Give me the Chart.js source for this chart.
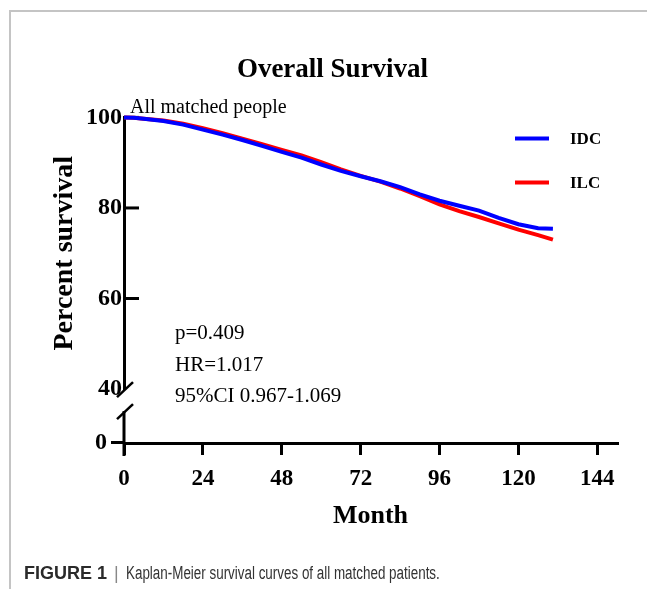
<!DOCTYPE html>
<html>
<head>
<meta charset="utf-8">
<script src="https://cdn.jsdelivr.net/npm/chart.js@4.4.1/dist/chart.umd.min.js"></script>
<style>
  html, body { margin: 0; padding: 0; background: #fff; }
  #wrap { position: absolute; left: 0; top: 0; width: 647px; height: 589px; }
  #frame { position: absolute; left: 9px; top: 10px; width: 700px; height: 600px;
           border-left: 2px solid #c4c4c4; border-top: 2px solid #c4c4c4; }
  #cap { position: absolute; left: 24px; top: 561px; font-family: "Liberation Sans", Arial, sans-serif;
         font-size: 18px; color: #2a2a2a; white-space: nowrap; line-height: 24px; }
  #cap b { font-weight: bold; }
  #cap .bar { color: #888; padding: 0 7px 0 7px; }
  #cap .txt { display: inline-block; transform: scaleX(0.745); transform-origin: 0 50%; color: #333; }
</style>
</head>
<body>
<div id="wrap">
  <div id="frame"></div>
  <canvas id="c" width="647" height="589"></canvas>
  <div id="cap"><b>FIGURE 1</b><span class="bar">|</span><span class="txt">Kaplan-Meier survival curves of all matched patients.</span></div>
</div>
<script>
// ---- data ----
const months = [0, 3, 6, 12, 18, 24, 30, 36, 42, 48, 54, 60, 66, 72, 78, 84, 90, 96, 102, 108, 114, 120, 126, 130.5];
const idcSurvival = [100, 99.9, 99.7, 99.2, 98.4, 97.3, 96.2, 95.0, 93.7, 92.4, 91.1, 89.6, 88.2, 87.0, 85.9, 84.6, 83.0, 81.6, 80.5, 79.4, 77.8, 76.4, 75.5, 75.4];
const ilcSurvival = [100, 99.9, 99.7, 99.3, 98.6, 97.6, 96.5, 95.3, 94.1, 92.8, 91.6, 90.1, 88.5, 87.1, 85.8, 84.3, 82.6, 80.8, 79.3, 78.0, 76.6, 75.2, 74.0, 73.0];
const seriesNames = ['IDC', 'ILC'];
const seriesColors = ['#0000ff', '#ff0000'];
const xTicks = [0, 24, 48, 72, 96, 120, 144];
const yTicksUpper = [40, 60, 80, 100];
const yTicksLower = [0];
const chartTitle = 'Overall Survival';
const yTitle = 'Percent survival';
const xTitle = 'Month';
const subgroupLabel = 'All matched people';
const statLines = ['p=0.409', 'HR=1.017', '95%CI 0.967-1.069'];

const SERIF = '"Liberation Serif", "Times New Roman", serif';

const toPoints = (xs, ys) => xs.map((x, i) => ({ x: x, y: ys[i] }));

const extras = {
  id: 'extras',
  beforeDatasetsDraw(chart) {
    const ctx = chart.ctx;
    const yU = chart.scales.y;
    const yL = chart.scales.yLow;
    const ax = chart.chartArea.left;
    ctx.save();
    ctx.strokeStyle = '#000';
    ctx.lineWidth = 3;
    ctx.lineCap = 'butt';
    // inward ticks on the upper segment
    yTicksUpper.forEach(v => {
      if (v === 40) return;
      const py = yU.getPixelForValue(v);
      ctx.beginPath(); ctx.moveTo(ax, py); ctx.lineTo(ax + 15, py); ctx.stroke();
    });
    // lower segment of axis (continues through the x-axis as the 0 tick)
    const yBreak = yU.getPixelForValue(40);
    const lowTop = yBreak + 22;
    ctx.beginPath(); ctx.moveTo(ax, lowTop); ctx.lineTo(ax, yL.getPixelForValue(0) + 13); ctx.stroke();
    // break slashes
    ctx.lineWidth = 2.5;
    ctx.beginPath(); ctx.moveTo(ax - 7, yBreak + 8); ctx.lineTo(ax + 9, yBreak - 7); ctx.stroke();
    ctx.beginPath(); ctx.moveTo(ax - 7, lowTop + 8); ctx.lineTo(ax + 9, lowTop - 7); ctx.stroke();
    ctx.restore();
  },
  afterDraw(chart) {
    const ctx = chart.ctx;
    ctx.save();
    ctx.fillStyle = '#000';
    ctx.textBaseline = 'alphabetic';
    ctx.textAlign = 'left';
    ctx.font = '20px ' + SERIF;
    ctx.fillText(subgroupLabel, 130, 113);
    ctx.font = '21px ' + SERIF;
    const bases = [339, 371, 402];
    statLines.forEach((t, i) => ctx.fillText(t, 175, bases[i]));
    // legend
    const legY = [138.5, 182.5];
    chart.data.datasets.forEach((ds, i) => {
      ctx.strokeStyle = ds.borderColor;
      ctx.lineWidth = 4;
      ctx.beginPath(); ctx.moveTo(515, legY[i]); ctx.lineTo(549, legY[i]); ctx.stroke();
      ctx.fillStyle = '#000';
      ctx.font = 'bold 17px ' + SERIF;
      ctx.textBaseline = 'middle';
      ctx.fillText(ds.label, 570, legY[i] + 1);
    });
    ctx.restore();
  }
};

new Chart(document.getElementById('c'), {
  type: 'line',
  data: {
    datasets: [
      { label: seriesNames[0], data: toPoints(months, idcSurvival), borderColor: seriesColors[0], backgroundColor: seriesColors[0],
        borderWidth: 4, pointRadius: 0, tension: 0, clip: false, yAxisID: 'y', order: 1 },
      { label: seriesNames[1], data: toPoints(months, ilcSurvival), borderColor: seriesColors[1], backgroundColor: seriesColors[1],
        borderWidth: 4, pointRadius: 0, tension: 0, clip: false, yAxisID: 'y', order: 2 }
    ]
  },
  options: {
    responsive: false,
    animation: false,
    events: [],
    layout: { padding: { top: 54, left: 48, right: 30, bottom: 40 } },
    plugins: {
      legend: { display: false },
      tooltip: { enabled: false },
      title: {
        display: true, text: chartTitle, color: '#000',
        font: { family: SERIF, size: 27, weight: 'bold', lineHeight: 1.2 },
        padding: { top: 0, bottom: 31 }
      }
    },
    scales: {
      x: {
        type: 'linear', min: 0, max: 150,
        afterBuildTicks: s => { s.ticks = xTicks.map(v => ({ value: v })); },
        afterFit: s => { s.height = 106; },
        ticks: { color: '#000', font: { family: SERIF, size: 23, weight: 'bold' }, padding: 10, maxRotation: 0 },
        grid: { display: true, drawOnChartArea: false, drawTicks: true, tickLength: 12, lineWidth: 3, color: '#000' },
        border: { display: true, width: 3, color: '#000' },
        title: { display: true, text: xTitle, color: '#000', font: { family: SERIF, size: 26, weight: 'bold' }, padding: { top: 0, bottom: 17 } }
      },
      yLow: {
        type: 'linear', position: 'left', stack: 'left', stackWeight: 54, min: 0, max: 10,
        afterBuildTicks: s => { s.ticks = yTicksLower.map(v => ({ value: v })); },
        afterFit: s => { s.width = 76; },
        ticks: { color: '#000', font: { family: SERIF, size: 24, weight: 'bold' }, padding: 4 },
        grid: { display: true, drawOnChartArea: false, drawTicks: true, tickLength: 13, lineWidth: 3, color: '#000' },
        border: { display: false }
      },
      y: {
        type: 'linear', position: 'left', stack: 'left', stackWeight: 272, min: 40, max: 100,
        afterBuildTicks: s => { s.ticks = yTicksUpper.map(v => ({ value: v })); },
        afterFit: s => { s.width = 76; },
        ticks: { color: '#000', font: { family: SERIF, size: 24, weight: 'bold' }, padding: 2 },
        grid: { display: false, drawTicks: false },
        border: { display: true, width: 3, color: '#000' },
        title: { display: true, text: yTitle, color: '#000', font: { family: SERIF, size: 28, weight: 'bold' }, padding: { top: 0, bottom: 0 } }
      }
    }
  },
  plugins: [extras]
});
</script>
</body>
</html>
